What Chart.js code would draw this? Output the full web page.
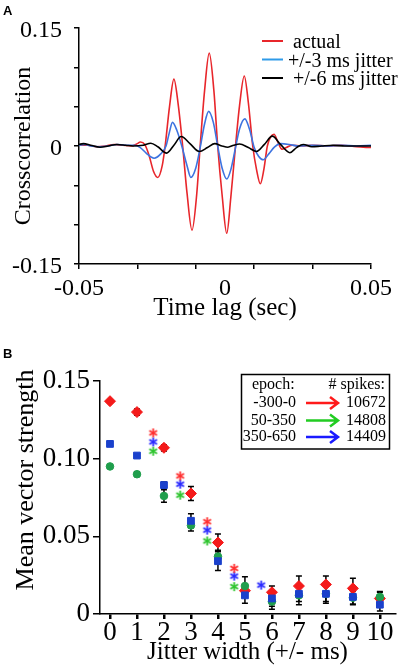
<!DOCTYPE html>
<html>
<head>
<meta charset="utf-8">
<script src="https://cdn.jsdelivr.net/npm/chart.js@4.4.1/dist/chart.umd.min.js"></script>
<style>
  html, body { margin: 0; padding: 0; background: #fff; }
  canvas { display: block; }
</style>
</head>
<body>
<canvas id="chartA" width="404" height="335"></canvas>
<canvas id="chartB" width="404" height="336"></canvas>
<script>
// ---- Panel A: crosscorrelation vs time lag ----
const lagActual = [-0.050, -0.047, -0.044, -0.041, -0.038, -0.035, -0.032, -0.030, -0.029, -0.0275,
  -0.026, -0.0245, -0.023, -0.0215, -0.0205, -0.019, -0.0175, -0.016, -0.0145, -0.013,
  -0.0113, -0.0097, -0.0085, -0.007, -0.0054, -0.0038, -0.0025, -0.001, 0.0006, 0.002,
  0.0036, 0.005, 0.0066, 0.008, 0.0095, 0.0108, 0.0121, 0.0133, 0.0145, 0.0157,
  0.0168, 0.018, 0.0195, 0.021, 0.023, 0.026, 0.030, 0.035, 0.040, 0.045, 0.050];
const actual = [0.001, 0.001, -0.001, 0.000, 0.002, 0.001, 0.000, 0.003, 0.005, 0.002,
  -0.012, -0.032, -0.040, -0.025, 0.000, 0.050, 0.085, 0.052, 0.000, -0.060,
  -0.107, -0.062, 0.000, 0.070, 0.118, 0.070, 0.000, -0.062, -0.111, -0.065,
  0.000, 0.052, 0.089, 0.055, 0.000, -0.030, -0.048, -0.030, 0.000, 0.012,
  0.015, 0.006, -0.004, -0.002, 0.001, 0.000, 0.001, 0.000, 0.001, -0.001, -0.002];

const lagJitter3 = [-0.050, -0.048, -0.046, -0.043, -0.040, -0.037, -0.034, -0.031, -0.029, -0.027,
  -0.0243, -0.022, -0.0202, -0.019, -0.018, -0.0165, -0.0148, -0.013, -0.0117, -0.010,
  -0.0085, -0.007, -0.0056, -0.004, -0.0025, -0.001, 0.0006, 0.002, 0.0036, 0.005,
  0.0068, 0.0085, 0.010, 0.0115, 0.0131, 0.015, 0.017, 0.019, 0.022, 0.025,
  0.030, 0.035, 0.040, 0.045, 0.050];
const jitter3 = [0.001, 0.002, 0.000, -0.001, 0.000, 0.002, 0.001, 0.001, -0.002, -0.009,
  -0.0155, -0.010, 0.000, 0.018, 0.030, 0.020, 0.000, -0.025, -0.040, -0.028,
  -0.002, 0.028, 0.044, 0.030, 0.000, -0.028, -0.042, -0.030, -0.002, 0.022,
  0.0345, 0.020, -0.002, -0.013, -0.0175, -0.010, -0.001, 0.003, 0.002, 0.000,
  0.001, 0.000, 0.001, 0.000, 0.001];

const lagJitter6 = [-0.050, -0.0485, -0.046, -0.0428, -0.040, -0.037, -0.034, -0.0315, -0.028, -0.0254,
  -0.023, -0.020, -0.0175, -0.015, -0.012, -0.0088, -0.006, -0.0035, -0.001, 0.001,
  0.003, 0.005, 0.008, 0.0108, 0.0135, 0.0162, 0.019, 0.0222, 0.0245, 0.0268,
  0.0297, 0.033, 0.037, 0.041, 0.045, 0.050];
const jitter6 = [0.002, 0.003, 0.001, -0.0015, 0.000, 0.002, 0.001, 0.000, 0.001, 0.0035,
  -0.001, -0.009, 0.001, 0.012, 0.003, -0.007, -0.002, 0.003, 0.000, -0.0015,
  0.001, 0.0025, -0.002, -0.007, 0.002, 0.0125, 0.002, -0.0085, -0.002, 0.002,
  -0.001, 0.000, 0.001, 0.000, 0.000, 0.000];

const lagTicks = [-0.05, -0.03, -0.01, 0, 0.01, 0.03, 0.05];
const lagTickLabels = ['-0.05', '', '', '0', '', '', '0.05'];
const corrTicks = [-0.15, -0.10, -0.05, 0, 0.05, 0.10, 0.15];
const corrTickLabels = ['-0.15', '', '', '0', '', '', '0.15'];
const legendA = [' actual', '+/-3 ms jitter', ' +/-6 ms jitter'];

// ---- Panel B: mean vector strength vs jitter width ----
const jitterWidths = [0, 1, 2, 3, 4, 5, 6, 7, 8, 9, 10];
const vsEarly = [0.137, 0.130, 0.107, 0.0776, 0.046, 0.015, 0.014, 0.018, 0.019, 0.0165, 0.010];
const vsMid = [0.095, 0.090, 0.076, 0.057, 0.037, 0.018, 0.008, 0.012, 0.013, 0.0105, 0.011];
const vsLate = [0.1095, 0.102, 0.083, 0.060, 0.034, 0.012, 0.010, 0.013, 0.013, 0.011, 0.006];
const errEarly = [0.001, 0.002, 0.002, 0.0045, 0.0055, 0.004, 0.004, 0.0065, 0.0055, 0.0065, 0.0045];
const errMid = [0.001, 0.0015, 0.004, 0.0035, 0.004, 0.006, 0.005, 0.006, 0.005, 0.004, 0.003];
const errLate = [0.001, 0.001, 0.002, 0.0045, 0.006, 0.005, 0.005, 0.005, 0.006, 0.005, 0.004];

// significance asterisks
const starX = [1.6, 2.6, 3.6, 4.6];
const starXLate = [1.6, 2.6, 3.6, 4.6, 5.6];
const starEarly = [0.1166, 0.0889, 0.0594, 0.0294];
const starLate = [0.1108, 0.0836, 0.054, 0.0244, 0.0186];
const starMid = [0.1048, 0.0765, 0.047, 0.0176];

const vsTicks = [0, 0.05, 0.10, 0.15];
const vsTickLabels = ['0', '0.05', '0.10', '0.15'];
const epochs = ['-300-0', '50-350', '350-650'];
const spikeCounts = ['10672', '14808', '14409'];

const SERIF = '"Liberation Serif", "DejaVu Serif", serif';
Chart.defaults.font.family = SERIF;
Chart.defaults.color = '#000';

function toXY(xs, ys) {
  return xs.map((x, i) => ({ x: x, y: ys[i] }));
}

function asterisk(color) {
  const c = document.createElement('canvas');
  c.width = 11; c.height = 11;
  const g = c.getContext('2d');
  g.strokeStyle = color;
  g.lineWidth = 1.8;
  for (let k = 0; k < 3; k++) {
    const a = Math.PI / 2 + k * Math.PI / 3;
    g.beginPath();
    g.moveTo(5.5 - 4.5 * Math.cos(a), 5.5 - 4.5 * Math.sin(a));
    g.lineTo(5.5 + 4.5 * Math.cos(a), 5.5 + 4.5 * Math.sin(a));
    g.stroke();
  }
  return c;
}

// panel letter + legend for A
const extrasA = {
  id: 'extrasA',
  afterDraw(chart) {
    const ctx = chart.ctx;
    ctx.save();
    ctx.fillStyle = '#000';
    ctx.font = 'bold 13px "Liberation Sans", Arial, sans-serif';
    ctx.textBaseline = 'middle';
    ctx.fillText('A', 3, 11);

    const rows = [41, 59.5, 78];
    const colors = ['#e8262b', '#2f9be8', '#000'];
    ctx.font = '20px ' + SERIF;
    legendA.forEach((label, i) => {
      ctx.strokeStyle = colors[i];
      ctx.lineWidth = 2;
      ctx.beginPath();
      ctx.moveTo(262, rows[i]);
      ctx.lineTo(283, rows[i]);
      ctx.stroke();
      ctx.fillStyle = '#000';
      ctx.fillText(label, 288, rows[i] + 2);
    });
    ctx.restore();
  }
};

const axisA = {
  border: { color: '#000', width: 1.5 },
  grid: { drawOnChartArea: false, color: '#000', lineWidth: 1.5, tickLength: 5 }
};

new Chart(document.getElementById('chartA'), {
  type: 'line',
  data: {
    datasets: [
      { label: 'actual', data: toXY(lagActual, actual), borderColor: '#e8262b', order: 3 },
      { label: '+/-3 ms jitter', data: toXY(lagJitter3, jitter3), borderColor: '#3d73e0', order: 2 },
      { label: '+/-6 ms jitter', data: toXY(lagJitter6, jitter6), borderColor: '#000', order: 1 }
    ]
  },
  options: {
    responsive: false,
    animation: false,
    layout: { padding: { top: 28, right: 33, left: 0, bottom: 0 } },
    elements: {
      point: { radius: 0 },
      line: { borderWidth: 1.6, fill: false, cubicInterpolationMode: 'monotone' }
    },
    plugins: { legend: { display: false }, tooltip: { enabled: false } },
    scales: {
      x: {
        type: 'linear', min: -0.05, max: 0.05,
        afterBuildTicks: s => { s.ticks = lagTicks.map(v => ({ value: v })); },
        afterFit: s => { s.height = 71; },
        border: axisA.border,
        grid: Object.assign({}, axisA.grid, {
          tickColor: c => (c.tick && c.tick.value === 0) ? 'rgba(0,0,0,0)' : '#000'
        }),
        ticks: { font: { size: 24 }, padding: 5, maxRotation: 0, autoSkip: false,
          callback: (v, i) => lagTickLabels[i] },
        title: { display: true, text: 'Time lag (sec)', font: { size: 25 }, padding: { top: 0, bottom: 12 } }
      },
      y: {
        type: 'linear', min: -0.15, max: 0.15,
        afterBuildTicks: s => { s.ticks = corrTicks.map(v => ({ value: v })); },
        afterFit: s => { s.width = 79; },
        border: axisA.border,
        grid: axisA.grid,
        ticks: { font: { size: 24 }, padding: 12, labelOffset: 3, autoSkip: false,
          callback: (v, i) => corrTickLabels[i] },
        title: { display: true, text: 'Crosscorrelation', font: { size: 24 }, padding: { top: 9, bottom: 0 } }
      }
    }
  },
  plugins: [extrasA]
});

// error bars, letter, y title and legend box for B
const extrasB = {
  id: 'extrasB',
  beforeDatasetsDraw(chart) {
    const ctx = chart.ctx;
    const xs = chart.scales.x, ys = chart.scales.y;
    const sets = [[vsEarly, errEarly], [vsMid, errMid], [vsLate, errLate]];
    ctx.save();
    ctx.strokeStyle = '#000';
    ctx.lineWidth = 1.5;
    sets.forEach(([vals, errs]) => {
      jitterWidths.forEach((w, i) => {
        const px = xs.getPixelForValue(w);
        const top = ys.getPixelForValue(vals[i] + errs[i]);
        const bot = ys.getPixelForValue(vals[i] - errs[i]);
        ctx.beginPath();
        ctx.moveTo(px, top); ctx.lineTo(px, bot);
        ctx.moveTo(px - 3, top); ctx.lineTo(px + 3, top);
        ctx.moveTo(px - 3, bot); ctx.lineTo(px + 3, bot);
        ctx.stroke();
      });
    });
    ctx.restore();
  },
  afterDraw(chart) {
    const ctx = chart.ctx;
    ctx.save();
    ctx.fillStyle = '#000';
    ctx.font = 'bold 13px "Liberation Sans", Arial, sans-serif';
    ctx.textBaseline = 'middle';
    ctx.fillText('B', 3, 19);

    // y axis title
    ctx.save();
    ctx.translate(26, 145);
    ctx.rotate(-Math.PI / 2);
    ctx.font = '26px ' + SERIF;
    ctx.textAlign = 'center';
    ctx.fillText('Mean vector strength', 0, 0);
    ctx.restore();

    // legend box
    ctx.strokeStyle = '#000';
    ctx.lineWidth = 1.5;
    ctx.strokeRect(241.5, 39.5, 148, 74.5);
    ctx.font = '16px ' + SERIF;
    ctx.textAlign = 'left';
    ctx.fillText('epoch:', 252, 50);
    ctx.textAlign = 'right';
    ctx.fillText('# spikes:', 385, 50);
    const rows = [68, 85.5, 102];
    const arrowColors = ['#ff1a1a', '#22cc22', '#1a1aff'];
    epochs.forEach((ep, i) => {
      const y = rows[i];
      ctx.textAlign = 'right';
      ctx.fillStyle = '#000';
      ctx.fillText(ep, 296, y);
      ctx.textAlign = 'left';
      ctx.fillText(spikeCounts[i], 346, y);
      ctx.strokeStyle = arrowColors[i];
      ctx.lineWidth = 2.5;
      ctx.beginPath();
      ctx.moveTo(306, y); ctx.lineTo(337, y);
      ctx.moveTo(330, y - 6); ctx.lineTo(338, y); ctx.lineTo(330, y + 6);
      ctx.stroke();
    });
    ctx.restore();
  }
};

const axisB = {
  border: { color: '#000', width: 1.5 },
  grid: { drawOnChartArea: false, color: '#000', lineWidth: 1.5, tickLength: 7 }
};

new Chart(document.getElementById('chartB'), {
  type: 'scatter',
  data: {
    datasets: [
      { label: '-300-0', data: toXY(jitterWidths, vsEarly), pointStyle: 'rectRot', pointRadius: 5.5,
        backgroundColor: '#f41a1a', borderColor: '#f41a1a', borderWidth: 1, order: 3 },
      { label: '50-350', data: toXY(jitterWidths, vsMid), pointStyle: 'circle', pointRadius: 3.8,
        backgroundColor: '#1f9e4c', borderColor: '#1f9e4c', borderWidth: 1, order: 2 },
      { label: '350-650', data: toXY(jitterWidths, vsLate), pointStyle: 'rect', pointRadius: 4.8,
        backgroundColor: '#1a40cc', borderColor: '#1a40cc', borderWidth: 1, order: 1 },
      { data: toXY(starX, starEarly), pointStyle: asterisk('#ff3030'), pointRadius: 5, order: 4 },
      { data: toXY(starXLate, starLate), pointStyle: asterisk('#2a2aff'), pointRadius: 5, order: 4 },
      { data: toXY(starX, starMid), pointStyle: asterisk('#2ec42e'), pointRadius: 5, order: 4 }
    ]
  },
  options: {
    responsive: false,
    animation: false,
    layout: { padding: { top: 46, right: 9, left: 0, bottom: 0 } },
    plugins: { legend: { display: false }, tooltip: { enabled: false } },
    scales: {
      x: {
        type: 'linear', min: -0.37, max: 10.56,
        afterBuildTicks: s => { s.ticks = jitterWidths.map(v => ({ value: v })); },
        afterFit: s => { s.height = 57; },
        border: axisB.border,
        grid: Object.assign({}, axisB.grid, { lineWidth: 2.5, tickLength: 5 }),
        ticks: { font: { size: 27, lineHeight: 1 }, padding: 0, maxRotation: 0, autoSkip: false },
        title: { display: true, text: 'Jitter width (+/- ms)', font: { size: 25 }, padding: { top: 0, bottom: 4 } }
      },
      y: {
        type: 'linear', min: 0, max: 0.15,
        afterBuildTicks: s => { s.ticks = vsTicks.map(v => ({ value: v })); },
        afterFit: s => { s.width = 100; },
        border: axisB.border,
        grid: axisB.grid,
        ticks: { font: { size: 27 }, padding: 3, autoSkip: false,
          callback: (v, i) => vsTickLabels[i] }
      }
    }
  },
  plugins: [extrasB]
});
</script>
</body>
</html>
